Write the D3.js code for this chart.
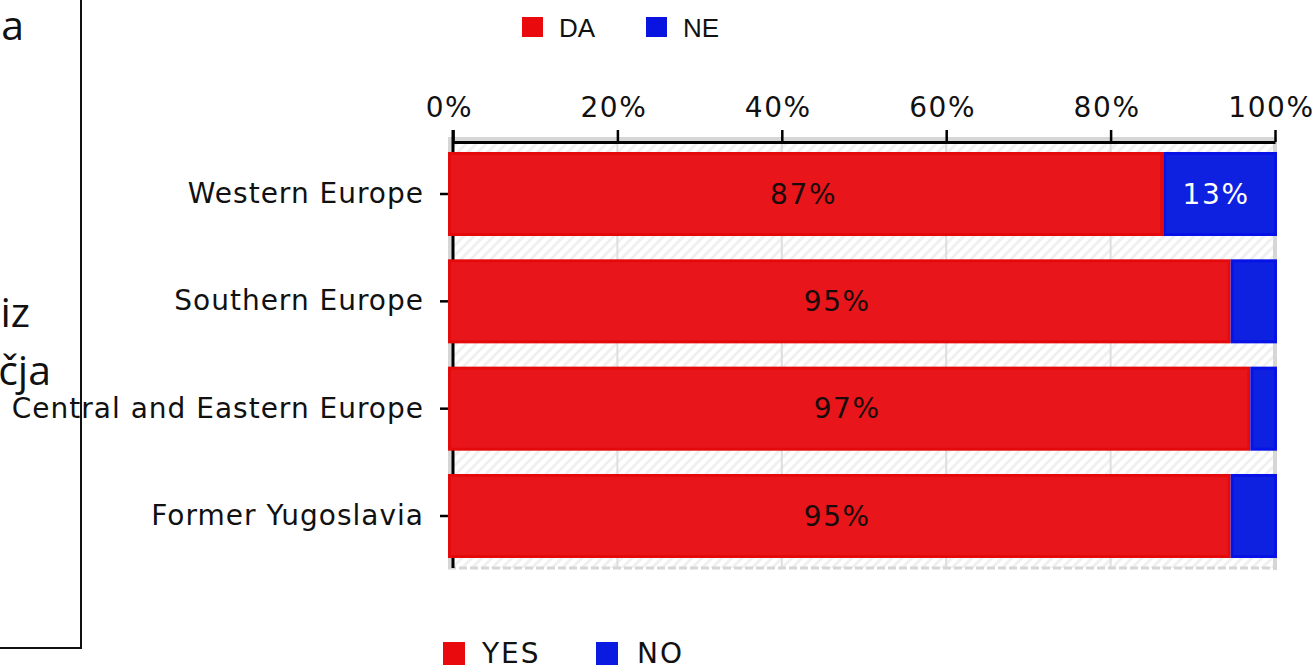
<!DOCTYPE html>
<html>
<head>
<meta charset="utf-8">
<script src="https://cdn.jsdelivr.net/npm/d3@7"></script>
<style>
  body { margin: 0; background: #fff; }
  svg { display: block; }
</style>
</head>
<body>
<div id="canvas"></div>
<script>
"use strict"

/* Data */
const categories = ["Western Europe", "Southern Europe", "Central and Eastern Europe", "Former Yugoslavia"];
const yesValues = [86.4, 94.6, 97.0, 94.6];
const noValues = [13.6, 5.4, 3.0, 5.4];
const yesLabels = ["87%", "95%", "97%", "95%"];
const noLabels = ["13%", "", "", ""];
const xTicks = [0, 20, 40, 60, 80, 100];
const topLegend = ["DA", "NE"];
const bottomLegend = ["YES", "NO"];
const slideWords = ["a", "iz", "čja"];

const W = 1315, H = 665;
const red = "#e8161b", redEdge = "#e40a0c";
const blue = "#0e20e0", blueEdge = "#0712e6";
const chartFont = "'DejaVu Sans', sans-serif";

let drawing = d3.select("#canvas")
    .append("svg")
    .attr("width", W)
    .attr("height", H);

/* hatch for the plot background */
let defs = drawing.append("defs");
let hatch = defs.append("pattern")
    .attr("id", "hatch")
    .attr("width", 10)
    .attr("height", 10)
    .attr("patternUnits", "userSpaceOnUse");
hatch.append("path")
    .attr("d", "M-2,12 L12,-2 M-2,2 L2,-2 M8,12 L12,8")
    .attr("stroke", "#f0f0f0")
    .attr("stroke-width", 3);

/* Slide fragment on the left */
let slide = drawing.append("g");
slide.append("line")
    .attr("x1", 81).attr("y1", 0).attr("x2", 81).attr("y2", 648)
    .attr("stroke", "#111").attr("stroke-width", 2);
slide.append("line")
    .attr("x1", 0).attr("y1", 648).attr("x2", 82).attr("y2", 648)
    .attr("stroke", "#111").attr("stroke-width", 2);
slide.selectAll("text")
    .data(slideWords)
    .join("text")
    .attr("x", (d, i) => [24, 30, 51][i])
    .attr("y", (d, i) => [40, 327, 385][i])
    .attr("text-anchor", "end")
    .attr("font-family", "'Open Sans', sans-serif")
    .attr("font-size", 41)
    .attr("fill", "#111")
    .text(d => d);

/* Scales */
let x = d3.scaleLinear()
    .domain([0, 100])
    .range([453, 1275]);

let y = d3.scaleBand()
    .domain(categories)
    .range([142, 568])
    .paddingInner(0.217)
    .paddingOuter(0.093);

/* Plot background */
let plot = drawing.append("g");
plot.append("rect")
    .attr("x", x(0) - 3)
    .attr("y", y.range()[0] - 3)
    .attr("width", x(100) - x(0) + 3)
    .attr("height", y.range()[1] - y.range()[0] + 3)
    .attr("fill", "url(#hatch)");

/* grid */
plot.selectAll(".grid")
    .data(xTicks.slice(1, -1))
    .join("line")
    .attr("class", "grid")
    .attr("x1", d => x(d)).attr("x2", d => x(d))
    .attr("y1", y.range()[0]).attr("y2", y.range()[1])
    .attr("stroke", "#dedede")
    .attr("stroke-width", 2);

/* frame: top, left, right solid, bottom dashed */
plot.append("path")
    .attr("d", `M${x(0) - 3},${y.range()[1]} V${y.range()[0] - 3} H${x(100)} V${y.range()[1] + 2}`)
    .attr("fill", "none")
    .attr("stroke", "#d6d6d6")
    .attr("stroke-width", 4);
plot.append("line")
    .attr("x1", x(0) - 5).attr("x2", x(100) + 2)
    .attr("y1", y.range()[1]).attr("y2", y.range()[1])
    .attr("stroke", "#d6d6d6")
    .attr("stroke-width", 3)
    .attr("stroke-dasharray", "8,3");

/* Axes */
let xAxis = drawing.append("g")
    .attr("transform", `translate(0, ${y.range()[0]})`)
    .call(d3.axisTop(x).tickValues(xTicks).tickFormat(d => d + "%").tickSize(12).tickSizeOuter(0));
xAxis.select(".domain").attr("stroke", "#000").attr("stroke-width", 3);
xAxis.selectAll(".tick line").attr("stroke", "#000").attr("stroke-width", 2.5);
xAxis.selectAll(".tick text")
    .attr("dx", -4)
    .attr("y", -25)
    .attr("font-family", chartFont)
    .attr("font-size", 28)
    .attr("letter-spacing", 1.6)
    .attr("fill", "#111");

let yAxis = drawing.append("g")
    .attr("transform", `translate(${x(0) - 5}, 0)`)
    .call(d3.axisLeft(y).tickSize(8).tickPadding(16).tickSizeOuter(0));
yAxis.select(".domain").remove();
yAxis.selectAll(".tick line").attr("stroke", "#000").attr("stroke-width", 2.5);
yAxis.selectAll(".tick text")
    .attr("font-family", chartFont)
    .attr("font-size", 28)
    .attr("letter-spacing", 1)
    .attr("fill", "#111");

drawing.append("line")
    .attr("x1", x(0)).attr("x2", x(0))
    .attr("y1", y.range()[0] - 12).attr("y2", y.range()[1])
    .attr("stroke", "#000")
    .attr("stroke-width", 3);

/* Bars */
let bars = drawing.append("g");
bars.selectAll(".yes")
    .data(categories)
    .join("rect")
    .attr("class", "yes")
    .attr("x", x(0) - 3.5)
    .attr("y", d => y(d) + 1.5)
    .attr("width", (d, i) => x(yesValues[i]) - x(0) + 2)
    .attr("height", y.bandwidth() - 3)
    .attr("fill", red)
    .attr("stroke", redEdge)
    .attr("stroke-width", 3);

bars.selectAll(".no")
    .data(categories)
    .join("rect")
    .attr("class", "no")
    .attr("x", (d, i) => x(yesValues[i]) + 1.5)
    .attr("y", d => y(d) + 1.5)
    .attr("width", (d, i) => x(yesValues[i] + noValues[i]) - x(yesValues[i]) - 1)
    .attr("height", y.bandwidth() - 3)
    .attr("fill", blue)
    .attr("stroke", blueEdge)
    .attr("stroke-width", 3);

/* value labels */
bars.selectAll(".yesLabel")
    .data(categories)
    .join("text")
    .attr("class", "yesLabel")
    .attr("x", (d, i) => (x(0) - 5 + x(yesValues[i])) / 2 - 2)
    .attr("y", d => y(d) + y.bandwidth() / 2)
    .attr("dy", "0.35em")
    .attr("text-anchor", "middle")
    .attr("font-family", chartFont)
    .attr("font-size", 28)
    .attr("letter-spacing", 1.6)
    .attr("fill", "#1a0a0a")
    .text((d, i) => yesLabels[i]);

bars.selectAll(".noLabel")
    .data(categories)
    .join("text")
    .attr("class", "noLabel")
    .attr("x", (d, i) => (x(yesValues[i]) + x(yesValues[i] + noValues[i])) / 2 - 3)
    .attr("y", d => y(d) + y.bandwidth() / 2)
    .attr("dy", "0.35em")
    .attr("text-anchor", "middle")
    .attr("font-family", chartFont)
    .attr("font-size", 28)
    .attr("letter-spacing", 1.6)
    .attr("fill", "#fff")
    .text((d, i) => noLabels[i]);

/* Top legend */
let legendTop = drawing.append("g");
legendTop.selectAll("rect")
    .data(topLegend)
    .join("rect")
    .attr("x", (d, i) => 522 + i * 124)
    .attr("y", 17)
    .attr("width", 21)
    .attr("height", 20)
    .attr("fill", (d, i) => [ "#e80a0c", "#0a14e0" ][i]);
legendTop.selectAll("text")
    .data(topLegend)
    .join("text")
    .attr("x", (d, i) => 559 + i * 124)
    .attr("y", 37)
    .attr("font-family", "'Liberation Sans', Arial, sans-serif")
    .attr("font-size", 26)
    .attr("fill", "#111")
    .text(d => d);

/* Bottom legend */
let legendBottom = drawing.append("g");
legendBottom.selectAll("rect")
    .data(bottomLegend)
    .join("rect")
    .attr("x", (d, i) => 443 + i * 153)
    .attr("y", 642)
    .attr("width", 22)
    .attr("height", 25)
    .attr("fill", (d, i) => [ "#e80a0c", "#0a1ae0" ][i]);
legendBottom.selectAll("text")
    .data(bottomLegend)
    .join("text")
    .attr("x", (d, i) => 482 + i * 155)
    .attr("y", 663)
    .attr("font-family", chartFont)
    .attr("font-size", 28)
    .attr("letter-spacing", 2)
    .attr("fill", "#111")
    .text(d => d);
</script>
</body>
</html>
